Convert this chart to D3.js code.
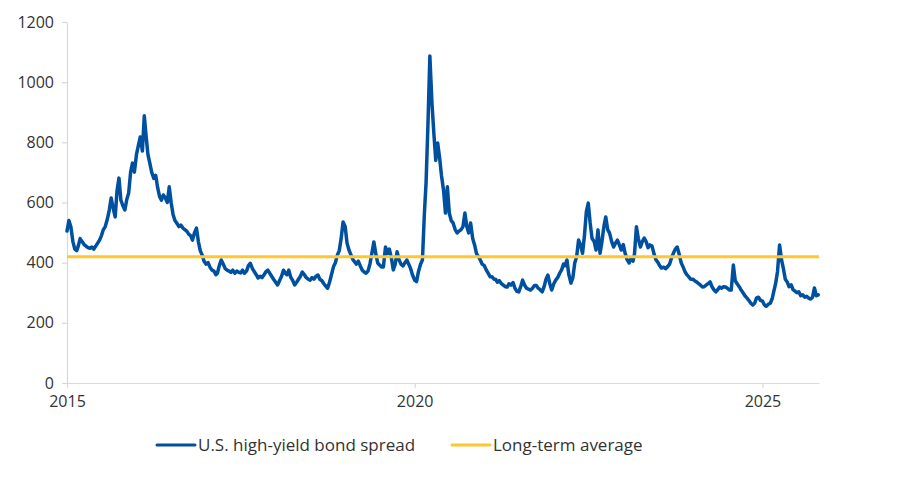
<!DOCTYPE html>
<html>
<head>
<meta charset="utf-8">
<script src="https://cdn.jsdelivr.net/npm/d3@7"></script>
<style>
  html, body { margin: 0; padding: 0; background: #ffffff; }
  svg { display: block; }
  text { font-family: "Open Sans", "Noto Sans", sans-serif; fill: #333333; }
</style>
</head>
<body>
<svg id="chart" width="903" height="487"></svg>
<script>
// ---- Data (bps), three readings per month: 1st, 11th, 21st ----
const hy2015 = [505,540,520, 470,445,440, 455,480,470, 460,455,450, 448,452,445, 455,465,475, 490,510,520, 545,575,615, 580,552,640, 681,608,590, 575,610,632, 700,731,701];
const hy2016 = [760,790,818, 771,888,818, 760,731,700, 680,690,650, 620,608,625, 615,600,652, 600,560,540, 530,520,525, 515,510,505, 495,490,475, 500,515,470, 440,425,405];
const hy2017 = [395,400,385, 375,372,360, 365,390,409, 395,380,375, 372,368,375, 365,372,368, 366,375,365, 372,390,398, 380,370,360, 349,355,350, 360,370,375, 365,355,345];
const hy2018 = [335,326,340, 355,375,365, 360,375,352, 340,326,335, 345,355,369, 360,350,345, 342,350,345, 355,359,345, 340,330,322, 315,335,360, 387,400,425, 440,480,535];
const hy2019 = [520,465,442, 425,410,402, 395,405,390, 375,369,365, 372,395,430, 469,430,399, 392,386,386, 452,430,445, 415,376,395, 436,410,395, 389,400,409, 395,380,359];
const hy2020 = [342,337,370, 395,409,560, 665,860,1087, 930,830,740, 798,750,690, 640,565,652, 565,540,532, 510,499,505, 510,520,565, 520,499,532, 480,459,430, 420,409,395];
const hy2021 = [390,376,365, 353,353,345, 345,335,340, 330,325,320, 319,330,325, 334,315,305, 303,320,342, 325,315,312, 309,315,324, 324,315,310, 303,320,345, 359,330,309];
const hy2022 = [330,342,350, 365,376,395, 390,409,360, 332,350,399, 420,475,460, 431,490,570, 598,532,480, 470,442,509, 431,470,520, 552,510,498, 470,452,465, 475,460,442];
const hy2023 = [460,430,410, 399,415,405, 430,519,480, 452,470,482, 470,450,459, 455,430,410, 402,390,382, 385,380,386, 395,415,431, 445,452,430, 400,386,370, 360,353,345];
const hy2024 = [345,340,336, 330,325,319, 320,325,330, 336,320,310, 303,310,319, 315,320,319, 315,309,309, 392,340,330, 320,309,300, 290,283,275, 265,259,265, 283,285,275];
const hy2025 = [272,260,255, 262,265,280, 303,330,370, 459,410,380, 345,336,320, 326,310,305, 300,303,290, 293,285,288, 282,279,285, 316,290,293];

const years = [2015,2016,2017,2018,2019,2020,2021,2022,2023,2024,2025];
const yearSeries = [hy2015,hy2016,hy2017,hy2018,hy2019,hy2020,hy2021,hy2022,hy2023,hy2024,hy2025];
const readingDays = [1, 11, 21];

const longTermAverage = 420;
const yTicks = [0, 200, 400, 600, 800, 1000, 1200];
const xTickYears = [2015, 2020, 2025];
const seriesNames = ["U.S. high-yield bond spread", "Long-term average"];
const colors = { spread: "#0050A0", avg: "#FFC62F", axis: "#d9d9d9" };

// ---- Build table ----
const spread = [];
years.forEach((yr, yi) => {
  yearSeries[yi].forEach((v, i) => {
    spread.push({ date: new Date(yr, Math.floor(i / 3), readingDays[i % 3]), value: v });
  });
});
const startDate = new Date(2015, 0, 1);
const endDate = new Date(2025, 9, 25);

// ---- Layout ----
const svg = d3.select("#chart");
const x = d3.scaleTime().domain([startDate, endDate]).range([67, 819]);
const y = d3.scaleLinear().domain([0, 1200]).range([383, 22]);

// Axes
const yAxis = d3.axisLeft(y).tickValues(yTicks).tickSize(5).tickSizeOuter(0).tickPadding(8).tickFormat(d3.format("d"));
const gy = svg.append("g").attr("transform", `translate(${x.range()[0]},0)`).call(yAxis);
const xAxis = d3.axisBottom(x).tickValues(xTickYears.map(v => new Date(v, 0, 1))).tickSize(5).tickSizeOuter(0).tickPadding(8).tickFormat(d3.timeFormat("%Y"));
const gx = svg.append("g").attr("transform", `translate(0,${y(0)})`).call(xAxis);

[gx, gy].forEach(g => {
  g.select(".domain").attr("stroke", colors.axis).attr("stroke-width", 1.2);
  g.selectAll(".tick line").attr("stroke", colors.axis).attr("stroke-width", 1.2);
  g.selectAll(".tick text").attr("fill", "#333333").style("font-size", "16px").style("font-family", "'Open Sans', sans-serif");
});

// Spread line
const line = d3.line().x(d => x(d.date)).y(d => y(d.value));
svg.append("path")
  .datum(spread)
  .attr("fill", "none")
  .attr("stroke", colors.spread)
  .attr("stroke-width", 3.5)
  .attr("stroke-linejoin", "round")
  .attr("stroke-linecap", "round")
  .attr("d", line);

// Long-term average line
const avgData = [{ date: startDate, value: longTermAverage }, { date: endDate, value: longTermAverage }];
svg.append("path")
  .datum(avgData)
  .attr("fill", "none")
  .attr("stroke", colors.avg)
  .attr("stroke-width", 3)
  .attr("d", line);

// Legend
const legend = svg.append("g").attr("transform", "translate(157,445)");
const legendItems = [
  { name: seriesNames[0], color: colors.spread, dx: 0 },
  { name: seriesNames[1], color: colors.avg, dx: 295 }
];
legendItems.forEach(it => {
  const g = legend.append("g").attr("transform", `translate(${it.dx},0)`);
  g.append("line").attr("x1", 0).attr("x2", 38).attr("y1", 0).attr("y2", 0)
    .attr("stroke", it.color).attr("stroke-width", 3).attr("stroke-linecap", "round");
  g.append("text").attr("x", 41).attr("y", 0).attr("dy", "0.35em")
    .style("font-size", "17px").text(it.name);
});
</script>
</body>
</html>
